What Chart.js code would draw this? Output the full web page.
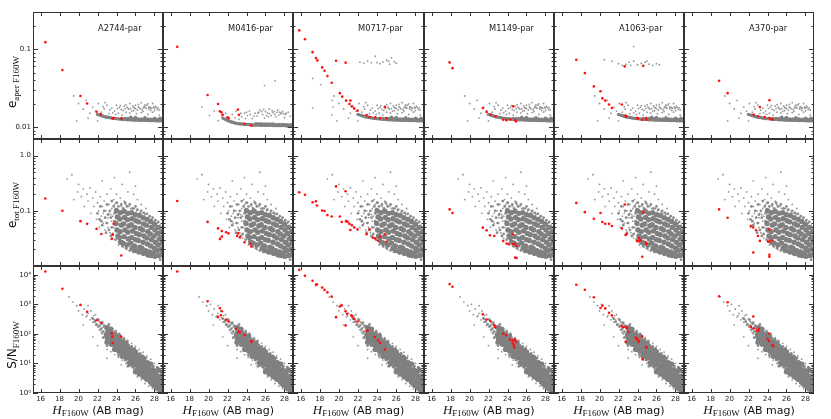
<!doctype html>
<html>
<head>
<meta charset="utf-8">
<script src="https://cdn.jsdelivr.net/npm/chart.js@4.4.0/dist/chart.umd.min.js"></script>
<style>
  body { margin: 0; background: #fff; }
  #fig { position: relative; width: 831px; height: 419px; overflow: hidden; font-family: 'DejaVu Sans'; }
  #fig canvas { position: absolute; }
  .ylab { position: absolute; transform: translate(-50%, -50%) rotate(-90deg); white-space: nowrap; color: #111; font-size: 12px; }
  .xlab { position: absolute; transform: translate(-50%, -50%); white-space: nowrap; color: #111; font-size: 11px; }
  .sub { font-family: 'Liberation Serif'; font-size: 9px; position: relative; top: 3px; }
</style>
</head>
<body>
<div id="fig"></div>
<script>
// fields (columns)
const fields = ['A2744-par', 'M0416-par', 'M0717-par', 'M1149-par', 'A1063-par', 'A370-par'];

// axis ticks
const magTicks = [16, 18, 20, 22, 24, 26, 28];
const magLabels = ['16', '18', '20', '22', '24', '26', '28'];
const aperTicks = [0.01, 0.1];
const aperLabels = ['0.01', '0.1'];
const totTicks = [0.1, 1];
const totLabels = ['0.1', '1.0'];
const snTicks = [1, 10, 100, 1000, 10000];
const snLabels = ['10\u2070', '10\u00b9', '10\u00b2', '10\u00b3', '10\u2074'];

// --- row 1: aperture error, gray sources ---
const aperCore = [[22.0,0.0145],[22.15,0.0143],[22.3,0.0141],[22.45,0.0139],[22.6,0.0137],[22.75,0.0135],[22.9,0.0134],
  [23.05,0.0133],[23.2,0.0132],[23.35,0.0131],[23.5,0.013],[23.65,0.0129],[23.8,0.0128],[23.95,0.0128],[24.1,0.0127],
  [24.25,0.0127],[24.4,0.0126],[24.55,0.0126],[24.7,0.0125],[24.85,0.0125],[25.0,0.0125],[25.15,0.0124],[25.3,0.0124],
  [25.45,0.0124],[25.6,0.0124],[25.75,0.0123],[25.9,0.0123],[26.05,0.0123],[26.2,0.0123],[26.35,0.0122],[26.5,0.0122],
  [26.65,0.0122],[26.8,0.0122],[26.95,0.0122],[27.1,0.0122],[27.25,0.0121],[27.4,0.0121],[27.55,0.0121],[27.7,0.0121],
  [27.85,0.0121],[28.0,0.0121],[28.15,0.012],[28.3,0.012],[28.45,0.012],[28.6,0.012],[28.75,0.012],
  [24.6,0.0129],[24.9,0.0129],[25.2,0.0129],[25.5,0.0128],[25.8,0.0128],[26.1,0.0128],[26.4,0.0127],[26.7,0.0127],
  [27.0,0.0127],[27.3,0.0127],[27.6,0.0126],[27.9,0.0126],[28.2,0.0126],[28.5,0.0126],[28.8,0.0125],
  [26.0,0.0132],[27.0,0.0131],[28.0,0.013],[28.6,0.013],[25.5,0.0133]];
const aperHalo = [[19.5,0.025],[20.0,0.02],[20.5,0.017],[20.8,0.022],[21.2,0.015],[21.5,0.018],[21.8,0.016],[22.1,0.02],
  [22.4,0.0155],[22.7,0.017],[23.0,0.019],[23.2,0.0148],[23.5,0.0175],[23.8,0.016],[24.0,0.019],[24.2,0.015],
  [24.5,0.0168],[24.8,0.0185],[25.0,0.0155],[25.2,0.0175],[25.4,0.02],[25.6,0.016],[25.8,0.0178],[26.0,0.019],
  [26.2,0.0165],[26.4,0.0176],[26.6,0.0205],[26.8,0.0158],[27.0,0.0178],[27.2,0.019],[27.4,0.017],[27.6,0.0176],
  [27.8,0.02],[28.0,0.0162],[28.2,0.0178],[26.1,0.0148],[27.3,0.0145],[24.6,0.0142],[23.9,0.0145],[28.5,0.0142],
  [25.1,0.018],[26.9,0.0183],[27.9,0.0179],[25.5,0.0172],[26.5,0.0171],[27.5,0.0181],[24.3,0.0178],[22.8,0.0205],
  [21.0,0.013],[19.8,0.012],[22.0,0.012],[25.9,0.0175],[26.3,0.0181],[27.1,0.0174],[27.7,0.0173],[28.4,0.0176],
  [24.1,0.0172],[24.7,0.0163],[25.3,0.0169],[25.7,0.0186],[26.0,0.0172],[26.7,0.0166],[27.0,0.0192],[27.6,0.0163],
  [28.1,0.0185],[28.3,0.0168],[24.4,0.0188],[25.0,0.0193],[26.3,0.0195],[27.3,0.0198],[28.0,0.0174],[25.4,0.0151],
  [26.6,0.0153],[27.8,0.0155],[23.3,0.0165],[22.6,0.0182],[23.6,0.0152],[24.9,0.0172],[26.8,0.0175],[27.4,0.0178],
  [25.8,0.0162],[28.5,0.0165]];
const aperCoreM0416 = [[21.5,0.013],[21.65,0.0127],[21.8,0.0125],[21.95,0.0122],[22.1,0.012],[22.25,0.0118],[22.4,0.0116],
  [22.55,0.0115],[22.7,0.0113],[22.85,0.0112],[23.0,0.0111],[23.15,0.011],[23.3,0.011],[23.45,0.0109],[23.6,0.0109],
  [23.75,0.0108],[23.9,0.0108],[24.05,0.0108],[24.2,0.0107],[24.35,0.0107],[24.5,0.0107],[24.65,0.0106],[24.8,0.0106],
  [24.95,0.0106],[25.1,0.0106],[25.25,0.0106],[25.4,0.0106],[25.55,0.0105],[25.7,0.0105],[25.85,0.0105],[26.0,0.0105],
  [26.15,0.0105],[26.3,0.0105],[26.45,0.0105],[26.6,0.0105],[26.75,0.0104],[26.9,0.0104],[27.05,0.0104],[27.2,0.0104],
  [27.35,0.0104],[27.5,0.0104],[27.65,0.0104],[27.8,0.0104],[27.95,0.0104],[28.1,0.0104],[28.25,0.0103],[28.4,0.0103],
  [28.55,0.0103],[28.7,0.0103],[28.85,0.0103],
  [25.0,0.011],[25.3,0.011],[25.6,0.011],[25.9,0.0109],[26.2,0.0109],[26.5,0.0109],[26.8,0.0109],[27.1,0.0108],
  [27.4,0.0108],[27.7,0.0108],[28.0,0.0108],[28.3,0.0107],[28.6,0.0107],[28.85,0.0107]];
const aperHaloM0416 = [[19.3,0.018],[20.1,0.014],[20.6,0.016],[21.0,0.012],[21.4,0.014],[21.8,0.015],[22.2,0.013],
  [22.5,0.0145],[22.9,0.016],[23.2,0.0125],[23.5,0.0135],[23.8,0.015],[24.1,0.014],[24.3,0.016],[24.6,0.0128],
  [24.9,0.015],[25.1,0.0138],[25.4,0.0165],[25.7,0.0145],[25.9,0.013],[26.2,0.0152],[26.4,0.017],[26.6,0.014],
  [26.9,0.0158],[27.1,0.0135],[27.3,0.0165],[27.6,0.0148],[27.8,0.016],[28.0,0.0132],[28.2,0.015],[25.3,0.0155],
  [26.0,0.0158],[26.8,0.0152],[27.5,0.0155],[24.0,0.0155],[25.9,0.034],[27.0,0.039],
  [24.4,0.0145],[24.8,0.0138],[25.2,0.015],[25.6,0.0158],[26.1,0.014],[26.4,0.0148],[26.7,0.0162],[27.0,0.0145],
  [27.4,0.0142],[27.7,0.0152],[28.1,0.0145],[28.4,0.0155],[25.8,0.0168],[26.3,0.0135],[27.2,0.0155],[27.9,0.0148],
  [23.9,0.0128],[23.4,0.015],[22.8,0.013],[28.6,0.0138]];
const aperHighM0717 = [[22.2,0.068],[22.6,0.066],[23.0,0.07],[23.4,0.067],[23.8,0.081],[24.3,0.065],[24.6,0.068],
  [25.0,0.072],[25.3,0.064],[25.5,0.077],[25.8,0.069],[26.0,0.066],[25.2,0.07],[24.0,0.067],
  [17.25,0.042],[18.1,0.035],[17.25,0.0175],[19.25,0.0143],[19.3,0.022],[19.4,0.018]];
const aperHighA1063 = [[20.5,0.073],[21.3,0.07],[22.0,0.065],[22.4,0.062],[22.8,0.064],[23.1,0.068],[23.6,0.108],
  [23.6,0.07],[24.0,0.063],[24.4,0.066],[24.8,0.068],[25.2,0.064],[25.6,0.062],[26.0,0.065],[26.3,0.063],[25.0,0.07],[23.3,0.062]];

// --- row 2: total error, gray sources ---
const totCore = [[24.0,0.1],[24.1,0.077],[23.95,0.059],[24.05,0.045],[24.15,0.035],
  [24.4,0.092],[24.35,0.071],[24.5,0.055],[24.4,0.042],[24.3,0.033],[24.45,0.027],
  [24.8,0.098],[24.85,0.076],[24.75,0.058],[24.9,0.045],[24.8,0.034],[24.7,0.026],
  [25.2,0.09],[25.15,0.069],[25.3,0.053],[25.2,0.041],[25.25,0.031],[25.1,0.024],
  [25.6,0.092],[25.65,0.072],[25.55,0.056],[25.7,0.043],[25.6,0.033],[25.5,0.026],[25.65,0.021],
  [26.0,0.085],[26.05,0.066],[25.95,0.05],[26.1,0.039],[26.0,0.03],[25.9,0.023],[26.05,0.019],
  [26.4,0.082],[26.35,0.063],[26.5,0.048],[26.4,0.037],[26.3,0.029],[26.45,0.022],[26.4,0.018],
  [26.8,0.075],[26.85,0.058],[26.75,0.045],[26.9,0.035],[26.8,0.027],[26.7,0.021],[26.85,0.017],
  [27.2,0.07],[27.15,0.055],[27.3,0.042],[27.2,0.032],[27.25,0.025],[27.1,0.019],[27.3,0.016],
  [27.6,0.064],[27.65,0.05],[27.55,0.038],[27.7,0.03],[27.6,0.023],[27.5,0.018],[27.65,0.0155],
  [28.0,0.057],[28.05,0.045],[27.95,0.035],[28.1,0.027],[28.0,0.021],[27.9,0.017],[28.05,0.015],
  [28.4,0.05],[28.35,0.039],[28.5,0.031],[28.4,0.024],[28.3,0.019],[28.45,0.0155],
  [28.75,0.042],[28.7,0.033],[28.8,0.026],[28.7,0.02],[28.75,0.016]];
const totMid = [[22.0,0.09],[22.2,0.07],[22.3,0.12],[22.5,0.055],[22.7,0.1],[22.8,0.075],[23.0,0.13],[23.0,0.06],
  [23.2,0.045],[23.3,0.1],[23.4,0.075],[23.5,0.15],[23.5,0.05],[23.6,0.038],[23.7,0.12],[23.8,0.09],[23.8,0.065],
  [23.9,0.03],[24.0,0.14],[24.2,0.12],[24.3,0.028],[24.5,0.13],[24.6,0.023],[24.7,0.11],[24.9,0.14],[25.0,0.021],
  [25.1,0.12],[25.4,0.019],[25.4,0.13],[25.7,0.11],[25.8,0.018],[26.0,0.12],[26.2,0.105],[26.3,0.017],[26.6,0.1],
  [26.8,0.016],[26.9,0.092],[27.2,0.088],[27.4,0.015],[27.5,0.08],[27.8,0.075],[27.9,0.0145],[28.1,0.068],[28.4,0.063],
  [28.6,0.013],[28.8,0.05],[28.85,0.035],[28.85,0.022],[28.85,0.015],[23.1,0.085],[22.4,0.065],[22.9,0.04],[23.4,0.035]];
const totHalo = [[18.8,0.38],[19.3,0.45],[19.5,0.16],[19.9,0.22],[20.0,0.3],[20.3,0.18],[20.5,0.25],[20.6,0.12],
  [20.9,0.2],[21.0,0.15],[21.2,0.26],[21.3,0.09],[21.5,0.17],[21.6,0.12],[21.8,0.22],[21.9,0.07],[22.0,0.14],
  [22.1,0.1],[22.2,0.05],[22.3,0.18],[22.4,0.08],[22.5,0.12],[22.6,0.06],[22.7,0.15],[22.8,0.045],[22.9,0.1],
  [23.0,0.2],[23.1,0.075],[23.2,0.13],[23.3,0.04],[23.4,0.25],[23.5,0.11],[23.6,0.032],[23.7,0.16],[23.8,0.13],
  [24.0,0.2],[24.1,0.14],[24.2,0.024],[24.4,0.17],[24.5,0.12],[24.7,0.022],[24.8,0.15],[25.0,0.13],[25.1,0.02],
  [25.3,0.12],[25.5,0.11],[25.7,0.018],[25.9,0.11],[26.1,0.1],[26.3,0.017],[26.5,0.095],[26.7,0.09],[27.0,0.085],
  [27.2,0.015],[27.4,0.075],[27.7,0.07],[28.0,0.065],[28.3,0.06],[28.6,0.055],[28.8,0.03],[28.8,0.02],[24.6,0.3],
  [25.2,0.22],[25.8,0.2],[26.2,0.16],[26.6,0.13],[27.1,0.11],[22.5,0.35],[23.8,0.4],[25.4,0.5],[26.0,0.28],
  [23.2,0.09],[23.5,0.065],[23.7,0.05],[22.9,0.06],[23.1,0.05],[23.4,0.085],[22.6,0.09],[23.9,0.11],[23.6,0.08]];

// --- row 3: S/N, gray sources ---
const snCore = [[23.0,164],[23.1,123],[22.95,92],[23.05,69],[23.0,52],
  [23.4,144],[23.35,108],[23.5,81],[23.4,61],[23.45,45],
  [23.8,95],[23.85,71],[23.75,54],[23.9,40],[23.8,30],
  [24.2,84],[24.15,62],[24.3,47],[24.2,35],[24.25,26],
  [24.6,55],[24.65,41],[24.55,31],[24.7,23],[24.6,17.5],
  [25.0,48.6],[24.95,36],[25.1,27],[25.0,20.5],[25.05,15.3],
  [25.4,32],[25.45,24],[25.35,18],[25.5,13.6],[25.4,10.2],
  [25.8,28],[25.75,21],[25.9,16],[25.8,12],[25.85,8.9],
  [26.2,18.7],[26.25,14],[26.15,10.5],[26.3,7.9],[26.2,5.9],
  [26.6,16.4],[26.55,12.2],[26.7,9.2],[26.6,6.9],[26.65,5.2],
  [27.0,10.9],[27.05,8.1],[26.95,6.1],[27.1,4.6],[27.0,3.4],
  [27.4,9.4],[27.35,7],[27.5,5.3],[27.4,4],[27.45,3],
  [27.8,6.2],[27.85,4.7],[27.75,3.5],[27.9,2.6],[27.8,2.0],
  [28.2,5.5],[28.15,4.1],[28.3,3.1],[28.2,2.3],[28.25,1.7],
  [28.6,3.7],[28.65,2.7],[28.55,2.06],[28.7,1.55],[28.6,1.15],
  [26.4,4.4],[26.8,3.6],[27.2,2.9],[27.6,2.3],[28.0,1.8],[28.4,1.45],[28.8,1.2],[26.0,5.2],[28.8,2.0],[28.8,3.0],
  [26.0,24],[26.8,15],[27.6,9.5],[28.4,6]];
const snMid = [[21.5,330],[21.7,260],[21.9,210],[22.1,300],[22.2,190],[22.4,150],[22.5,240],[22.6,120],[22.7,190],
  [22.8,100],[22.9,160],[23.1,85],[23.2,210],[23.3,140],[23.5,55],[23.6,115],[23.7,38],[23.9,125],[24.0,60],[24.1,28],
  [24.3,100],[24.4,22],[24.5,70],[24.7,16],[24.8,65],[24.9,13],[25.1,55],[25.2,11],[25.3,42],[25.5,9],[25.6,38],
  [25.7,7.5],[25.9,32],[26.0,6.5],[26.1,26],[26.3,5],[26.5,22],[26.6,4.2],[26.8,18],[26.9,3.4],[27.1,15],[27.2,2.6],
  [27.3,12],[27.5,2.2],[27.7,10],[27.8,1.7],[27.9,8],[28.1,1.4],[28.3,7.5],[28.5,1.3],[28.7,5],[28.8,1.8],[28.8,2.6],
  [28.75,3.8],[27.0,5.2],[26.4,8.8],[25.6,14.5],[24.8,26],[24.0,50],[23.2,100],[22.6,75],[23.0,40],[24.2,19],[25.2,8]];
const snHalo = [[19.0,1800],[19.4,1200],[19.8,900],[20.0,600],[20.2,1000],[20.4,450],[20.6,700],[20.8,380],[21.0,500],
  [21.2,300],[21.3,600],[21.5,250],[21.6,420],[21.8,200],[22.0,330],[22.1,170],[22.2,260],[22.3,130],[22.4,210],
  [22.5,100],[22.6,170],[22.7,80],[22.8,150],[22.9,65],[23.0,30],[23.2,180],[23.4,25],[23.6,150],[23.8,20],
  [24.0,110],[24.2,16],[24.4,90],[24.6,13],[24.8,75],[25.0,10],[25.2,60],[25.4,8],[25.6,48],[25.8,6.5],[26.0,38],
  [26.2,3.5],[26.4,30],[26.6,2.8],[26.8,24],[27.0,2.1],[27.2,18],[27.4,1.7],[27.6,14],[27.8,1.4],[28.0,10],
  [28.2,1.2],[28.4,7],[28.6,1.15],[28.8,3],[28.8,1.6],[22.0,40],[21.5,80],[23.0,15],[24.5,9],[20.5,200],[22.5,220],
  [23.5,130],[24.5,55],[25.5,35],[26.5,20],[27.5,11],[28.5,5.8],[21.0,900],[21.8,450],
  [22.0,180],[22.3,240],[22.6,120],[22.2,140],[21.7,300],[22.8,90],[21.4,350],[20.9,420],[22.4,110]];

// --- red sources, one list per field ---
const redAper = [
  [[16.5,0.123],[18.3,0.054],[20.2,0.025],[20.9,0.02],[21.9,0.0157],[22.35,0.0145],[23.6,0.0129],[23.7,0.013],[24.5,0.0128]],
  [[16.7,0.107],[19.9,0.0257],[21.0,0.0197],[21.2,0.0159],[21.35,0.0154],[21.5,0.0143],[22.0,0.0133],[22.1,0.013],
   [23.1,0.0167],[23.2,0.0143],[23.8,0.011],[24.5,0.0104]],
  [[15.85,0.174],[16.45,0.134],[17.25,0.0915],[17.6,0.0767],[17.75,0.0716],[18.25,0.0582],[18.5,0.0527],[18.8,0.045],
   [19.25,0.037],[20.1,0.0272],[20.35,0.0245],[20.75,0.0218],[21.2,0.0218],[21.1,0.0197],[21.35,0.0184],[21.6,0.0172],
   [21.95,0.0162],[22.9,0.0142],[23.2,0.0134],[23.8,0.0133],[24.3,0.013],[24.8,0.018],[25.0,0.0129],[19.7,0.071],[20.7,0.067]],
  [[17.9,0.0675],[18.2,0.057],[21.4,0.0175],[21.8,0.0156],[22.25,0.0144],[22.75,0.0137],[23.55,0.0124],[23.9,0.0122],
   [24.6,0.0184],[24.8,0.0122],[24.9,0.0118],[24.3,0.0125]],
  [[17.55,0.073],[18.45,0.0492],[19.4,0.0332],[20.1,0.0287],[20.3,0.0233],[20.6,0.0218],[21.0,0.0194],[21.3,0.0175],
   [22.35,0.0194],[22.75,0.014],[22.8,0.0135],[22.65,0.06],[23.95,0.013],[24.05,0.0128],[24.6,0.061],[24.5,0.0124],
   [24.9,0.013],[24.95,0.0124]],
  [[18.9,0.0393],[19.8,0.0272],[22.55,0.0144],[23.0,0.0137],[23.2,0.018],[23.7,0.0134],[24.2,0.022],[24.2,0.013],
   [24.4,0.0127],[24.55,0.0124]]
];
const redTot = [
  [[16.5,0.167],[18.3,0.1],[20.2,0.065],[20.9,0.058],[21.9,0.047],[22.4,0.038],[23.5,0.031],[23.6,0.037],[23.7,0.058],[24.5,0.0155]],
  [[16.7,0.151],[19.9,0.063],[21.0,0.048],[21.2,0.031],[21.4,0.034],[21.4,0.043],[21.85,0.041],[22.1,0.039],[23.0,0.035],
   [23.1,0.039],[23.3,0.033],[23.8,0.027],[24.4,0.025],[24.5,0.0226]],
  [[15.85,0.216],[16.45,0.196],[17.25,0.143],[17.6,0.149],[17.7,0.125],[18.25,0.101],[18.5,0.099],[18.8,0.0836],
   [19.25,0.079],[19.7,0.277],[20.1,0.079],[20.3,0.0626],[20.7,0.226],[20.75,0.065],[20.9,0.063],[21.1,0.058],
   [21.35,0.055],[21.6,0.05],[21.2,0.045],[21.95,0.046],[22.9,0.0375],[23.2,0.046],[23.55,0.0327],[23.8,0.0316],
   [24.1,0.0286],[24.3,0.034],[24.8,0.0375],[25.0,0.0275]],
  [[17.9,0.106],[18.2,0.091],[21.4,0.0495],[21.8,0.0443],[22.15,0.036],[22.6,0.035],[23.55,0.0285],[23.9,0.0255],
   [24.1,0.025],[24.55,0.0375],[24.6,0.025],[24.8,0.025],[24.9,0.023],[24.8,0.0143],[24.95,0.014]],
  [[17.55,0.139],[18.45,0.0946],[19.4,0.0718],[20.1,0.091],[20.3,0.0626],[20.6,0.058],[21.0,0.058],[21.3,0.053],
   [22.35,0.048],[22.75,0.0366],[22.85,0.038],[22.65,0.13],[23.95,0.0285],[24.05,0.028],[24.15,0.0318],[24.3,0.0293],
   [24.6,0.0946],[24.5,0.0147],[24.9,0.0267],[24.95,0.025]],
  [[18.9,0.106],[19.8,0.0748],[22.25,0.053],[22.5,0.05],[22.8,0.0443],[23.0,0.035],[23.2,0.0285],[24.2,0.0464],
   [24.05,0.0277],[24.2,0.0277],[24.5,0.0293],[22.5,0.0176],[24.2,0.016],[24.2,0.0147]]
];
const redSN = [
  [[16.5,13000],[18.3,3400],[20.2,960],[20.9,560],[21.9,290],[22.4,240],[23.5,105],[23.55,81],[23.6,50],[24.5,81]],
  [[16.7,13000],[19.9,1280],[21.2,740],[21.4,590],[21.3,430],[21.0,370],[21.85,300],[22.1,265],[22.9,150],[23.15,117],
   [23.3,117],[23.8,91],[24.5,57],[24.55,55]],
  [[15.85,14800],[16.45,9300],[17.25,6300],[17.6,4600],[17.7,4800],[18.25,3760],[18.5,3100],[18.8,2560],[19.25,1830],
   [19.7,370],[20.1,850],[20.3,920],[20.7,590],[20.7,195],[20.85,480],[21.3,425],[21.4,390],[21.6,325],[21.95,265],
   [22.9,126],[23.0,132],[23.75,79],[24.1,61],[24.3,50],[24.8,30]],
  [[17.9,4870],[18.2,3960],[21.4,460],[21.8,310],[22.2,275],[22.6,195],[22.7,170],[23.55,103],[23.85,90],[24.25,65],
   [24.55,61],[24.8,65],[24.9,55],[24.65,42],[24.7,35],[24.55,50]],
  [[17.55,4620],[18.45,3150],[19.4,1740],[20.1,760],[20.3,910],[20.6,740],[21.0,520],[21.3,425],[22.35,182],[22.5,172],
   [22.75,172],[22.9,158],[22.75,54],[23.05,117],[23.8,76],[23.95,68],[24.05,61],[24.15,54],[24.5,83],[24.9,36],
   [24.95,35],[24.55,14]],
  [[18.9,1880],[19.8,1180],[22.25,172],[22.5,390],[22.55,152],[22.85,126],[23.05,132],[23.1,150],[24.15,103],[24.0,69],
   [24.15,58],[24.5,42],[24.6,39]]
];

// layout of the panel grid
const PL = 33, PT = 12, PW = 130.2, PH = 127;
const yRanges = [[0.007, 0.3], [0.01, 2], [1, 20000]];
const yTicks = [aperTicks, totTicks, snTicks];
const yLabels = [aperLabels, totLabels, snLabels];

Chart.defaults.font.family = 'DejaVu Sans';
Chart.defaults.color = '#222';

function logMinor(lo, hi) {
  const out = [];
  for (let d = Math.floor(Math.log10(lo)); d <= Math.ceil(Math.log10(hi)); d++)
    for (let k = 2; k <= 9; k++) { const v = k * Math.pow(10, d); if (v > lo && v < hi) out.push(v); }
  return out;
}

// frame with inward ticks on all four sides + field name
const frameTicks = {
  id: 'frameTicks',
  afterDraw(chart, args, o) {
    const { ctx, chartArea: a, scales: { x, y } } = chart;
    ctx.save();
    ctx.strokeStyle = '#333';
    ctx.lineWidth = 1;
    ctx.strokeRect(a.left + 0.5, a.top + 0.5, a.right - a.left - 1, a.bottom - a.top - 1);
    ctx.beginPath();
    magTicks.forEach(v => {
      const p = Math.round(x.getPixelForValue(v)) + 0.5;
      ctx.moveTo(p, a.top); ctx.lineTo(p, a.top + 4);
      ctx.moveTo(p, a.bottom); ctx.lineTo(p, a.bottom - 4);
    });
    o.major.forEach(v => {
      const p = Math.round(y.getPixelForValue(v)) + 0.5;
      ctx.moveTo(a.left, p); ctx.lineTo(a.left + 5, p);
      ctx.moveTo(a.right, p); ctx.lineTo(a.right - 5, p);
    });
    o.minor.forEach(v => {
      const p = Math.round(y.getPixelForValue(v)) + 0.5;
      ctx.moveTo(a.left, p); ctx.lineTo(a.left + 2.5, p);
      ctx.moveTo(a.right, p); ctx.lineTo(a.right - 2.5, p);
    });
    ctx.stroke();
    if (o.label) {
      ctx.fillStyle = '#222';
      ctx.font = '8.3px "DejaVu Sans"';
      ctx.textAlign = 'left';
      ctx.textBaseline = 'middle';
      ctx.fillText(o.label, a.left + 65, a.top + 17);
    }
    ctx.restore();
  }
};

const fig = document.getElementById('fig');

function grayFor(r, c) {
  if (r === 0) {
    const core = c === 1 ? aperCoreM0416 : aperCore;
    let halo = c === 1 ? aperHaloM0416 : aperHalo;
    if (c === 2) halo = halo.concat(aperHighM0717);
    if (c === 4) halo = halo.concat(aperHighA1063);
    return [core, [], halo];
  }
  if (r === 1) return [totCore, totMid, totHalo];
  return [snCore, snMid, snHalo];
}

function noPad(s) { s.paddingLeft = 0; s.paddingRight = 0; s.paddingTop = 0; s.paddingBottom = 0; }

function panel(r, c) {
  const left = Math.round(PL + c * PW), right = Math.round(PL + (c + 1) * PW);
  const top = PT + r * PH;
  const padL = c === 0 ? left : 0, padB = r === 2 ? 14 : 0;
  const cv = document.createElement('canvas');
  cv.width = right - left + padL;
  cv.height = PH + padB;
  cv.style.left = (left - padL) + 'px';
  cv.style.top = top + 'px';
  fig.appendChild(cv);

  const [core, mid, halo] = grayFor(r, c);
  const red = [redAper, redTot, redSN][r][c];
  const [ymin, ymax] = yRanges[r];

  new Chart(cv, {
    type: 'scatter',
    data: {
      datasets: [
        { data: red, backgroundColor: '#ff1010', borderWidth: 0, pointRadius: 1.3, order: 0 },
        { data: halo, backgroundColor: 'rgba(125,125,125,0.8)', borderWidth: 0, pointRadius: 0.9, order: 1 },
        { data: mid, backgroundColor: 'rgba(128,128,128,0.9)', borderWidth: 0, pointRadius: 1.4, order: 2 },
        { data: core, backgroundColor: '#808080', borderWidth: 0, pointRadius: r === 0 ? 1.7 : 2.7, order: 3 }
      ]
    },
    options: {
      responsive: false,
      animation: false,
      events: [],
      layout: { padding: 0, autoPadding: false },
      plugins: {
        legend: { display: false },
        tooltip: { enabled: false },
        frameTicks: {
          major: yTicks[r],
          minor: logMinor(ymin, ymax),
          label: r === 0 ? fields[c] : ''
        }
      },
      scales: {
        x: {
          type: 'linear', min: 15.2, max: 28.9,
          display: r === 2,
          grid: { display: false, drawTicks: false },
          border: { display: false },
          afterFit: s => { s.height = padB; noPad(s); },
          afterBuildTicks: s => { s.ticks = magTicks.map(v => ({ value: v })); },
          ticks: { padding: 2, autoSkip: false, maxRotation: 0, font: { size: 7 },
                   callback: (v, i) => magLabels[i] }
        },
        y: {
          type: 'logarithmic', min: ymin, max: ymax,
          display: c === 0,
          grid: { display: false, drawTicks: false },
          border: { display: false },
          afterFit: s => { s.width = padL; noPad(s); },
          afterBuildTicks: s => { s.ticks = yTicks[r].map(v => ({ value: v })); },
          ticks: { padding: 2, autoSkip: false, font: { size: 7 },
                   callback: (v, i) => yLabels[r][i] }
        }
      }
    },
    plugins: [frameTicks]
  });
}

for (let r = 0; r < 3; r++) for (let c = 0; c < 6; c++) panel(r, c);

// axis titles
function addLabel(cls, html, x, y) {
  const d = document.createElement('div');
  d.className = cls;
  d.innerHTML = html;
  d.style.left = x + 'px';
  d.style.top = y + 'px';
  fig.appendChild(d);
}
addLabel('ylab', 'e<span class="sub">aper F160W</span>', 12, 82);
addLabel('ylab', 'e<span class="sub">tot F160W</span>', 12, 205);
addLabel('ylab', 'S/N<span class="sub">F160W</span>', 12, 345);
const xTitle = '<i style="font-family:\'Liberation Serif\';font-size:13px">H</i><span class="sub" style="top:2px">F160W</span> (AB mag)';
for (let c = 0; c < 6; c++) addLabel('xlab', xTitle, PL + (c + 0.5) * PW, 410);
</script>
</body>
</html>
